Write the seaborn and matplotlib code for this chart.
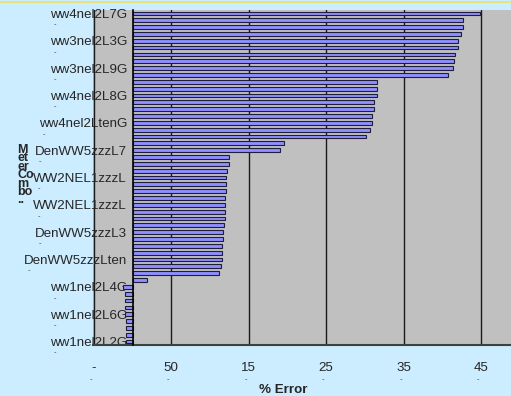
import matplotlib
matplotlib.use('Agg')
import matplotlib.pyplot as plt
import seaborn as sns
import pandas as pd
from matplotlib.lines import Line2D

# 数据：每个表计组合的误差（%），自上而下
error_values = [44.9, 42.6, 42.6, 42.4, 42.0, 42.0, 41.6, 41.5, 41.3, 40.7,
                31.6, 31.6, 31.5, 31.2, 31.2, 30.9, 30.9, 30.7, 30.1,
                19.5, 19.0,
                12.4, 12.4, 12.2, 12.1, 12.1, 12.0, 11.9, 11.9, 11.9, 11.9,
                11.85, 11.7, 11.7, 11.6, 11.55, 11.5, 11.45, 11.2,
                1.9,
                -1.2, -1.0, -1.0, -1.0, -1.0, -0.9, -0.9, -0.8, -0.8]
combo_ids = [f'c{i:02d}' for i in range(len(error_values))]

# 只有每隔4个组合显示名称
label_index = [0, 4, 8, 12, 16, 20, 24, 28, 32, 36, 40, 44, 48]
label_text = ['ww4nel2L7G', 'ww3nel2L3G', 'ww3nel2L9G', 'ww4nel2L8G', 'ww4nel2LtenG',
              'DenWW5zzzL7', 'WW2NEL1zzzL', 'WW2NEL1zzzL', 'DenWW5zzzL3', 'DenWW5zzzLten',
              'ww1nel2L4G', 'ww1nel2L6G', 'ww1nel2L2G']

x_ticks = [-5, 5, 15, 25, 35, 45]
x_tick_labels = ['-', '50', '15', '25', '35', '45']

y_title_lines = ['M', 'et', 'er', 'Co', 'm', 'bo', '..']

sns.set_style('white')
plt.rcParams['font.family'] = ['Liberation Sans', 'DejaVu Sans']

W, H = 511, 396
fig = plt.figure(figsize=(W / 100, H / 100), dpi=100)
fig.patch.set_facecolor('#CCECFF')

ax = fig.add_axes([93 / W, 51 / H, 418 / W, 335 / H])
ax.set_facecolor('#C0C0C0')

df = pd.DataFrame({'combo': combo_ids, 'error': error_values})
sns.barplot(data=df, x='error', y='combo', order=combo_ids, orient='h',
            color='#8F8FFF', saturation=1, width=0.55,
            edgecolor='#1E1E3C', linewidth=0.8, ax=ax, zorder=3)

ax.set_xlim(-5.1, 48.84)
ax.set_ylim(len(combo_ids) - 0.5, -0.5)

# 网格线
ax.set_xticks(x_ticks)
ax.set_xticklabels(x_tick_labels, fontsize=9.6)
ax.grid(axis='x', color='#1A1A1A', linewidth=1, zorder=1)
ax.set_axisbelow(True)

# y轴位于 0 处
for s in ['top', 'right']:
    ax.spines[s].set_visible(False)
ax.spines['left'].set_position(('data', 0))
ax.spines['left'].set_color('black')
ax.spines['left'].set_linewidth(1.2)
ax.spines['left'].set_zorder(4)
ax.spines['bottom'].set_color('#404040')
ax.spines['bottom'].set_linewidth(1.5)

ylabels = [''] * len(combo_ids)
for i, t in zip(label_index, label_text):
    ylabels[i] = t
ax.set_yticks(range(len(combo_ids)))
ax.set_yticklabels(ylabels, fontsize=9.6)
ax.set_yticks([i + 0.5 for i in range(-1, len(combo_ids))], minor=True)
ax.tick_params(axis='y', which='major', length=0, pad=4)
ax.tick_params(axis='y', which='minor', length=3, width=0.8, color='black', direction='out')
ax.tick_params(axis='x', length=4, width=1, color='black', direction='out', pad=8.5)
ax.set_xlabel('')
ax.set_ylabel('')

# 坐标轴标题
fig.text(283 / W, 1 - 390 / H, '% Error', fontsize=9.6, fontweight='bold',
         ha='center', va='center')
fig.text(17 / W, 1 - 144 / H, '\n'.join(y_title_lines), fontsize=9,
         fontweight='bold', ha='left', va='top', linespacing=0.6)

# 顶部黄色边线
fig.add_artist(Line2D([0, 1], [1 - 1.5 / H, 1 - 1.5 / H], color='#EDE24A', lw=1.1))

# 被截断的第二行文字残迹
fig.canvas.draw()
for lbl in ax.get_yticklabels():
    if lbl.get_text():
        bb = lbl.get_window_extent()
        fig.text((bb.x0 + 4) / W, (bb.y0 - 4) / H, '-', fontsize=5.5, color='#444444',
                 ha='left', va='center')
for lbl in ax.get_xticklabels():
    bb = lbl.get_window_extent()
    fig.text((bb.x0 + bb.x1) / 2 / W - 3 / W, (bb.y0 - 5) / H, '-', fontsize=5.5,
             color='#444444', ha='center', va='center')

fig.savefig('out.png', dpi=100, facecolor=fig.get_facecolor())
